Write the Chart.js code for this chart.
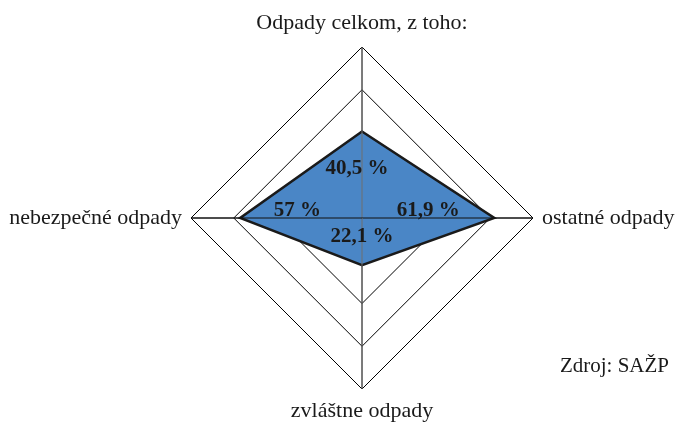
<!DOCTYPE html>
<html lang="sk">
<head>
<meta charset="utf-8">
<script src="https://cdn.jsdelivr.net/npm/chart.js@4"></script>
<style>
  html, body { margin: 0; padding: 0; background: #fff; }
  canvas { display: block; }
</style>
</head>
<body>
<canvas id="chart" width="675" height="425"></canvas>
<script>
// Štruktúra odpadov (podiely v %), zdroj SAŽP
const categories = ['Odpady celkom, z toho:', 'ostatné odpady', 'zvláštne odpady', 'nebezpečné odpady'];
const shares = [40.5, 61.9, 22.1, 57];
const valueLabels = ['40,5 %', '61,9 %', '22,1 %', '57 %'];
const source = 'Zdroj: SAŽP';

const SERIF = '"Liberation Serif", "Times New Roman", serif';

// where each value label sits along its spoke (fraction of the data radius) + small nudge
const labelPlace = [
  { f: 0.61, dx: -5, dy: 3 },
  { f: 0.5, dx: 0, dy: -7 },
  { f: 0.36, dx: 0, dy: 2 },
  { f: 0.53, dx: 0, dy: -7 }
];

// spokes are drawn over the filled polygon in the original, labels/texts drawn by hand
const overlay = {
  id: 'overlay',
  afterDatasetsDraw(chart) {
    const scale = chart.scales.r;
    const ctx = chart.ctx;
    const c = { x: scale.xCenter, y: scale.yCenter };
    ctx.save();
    ctx.lineWidth = 1;
    for (let i = 0; i < categories.length; i++) {
      const p = scale.getPointPosition(i, scale.drawingArea);
      ctx.strokeStyle = i % 2 === 0 ? '#6e6e6e' : '#111';
      ctx.beginPath();
      ctx.moveTo(c.x, c.y);
      ctx.lineTo(p.x, p.y);
      ctx.stroke();
    }

    // value labels
    ctx.fillStyle = '#1a1a1a';
    ctx.font = 'bold 21px ' + SERIF;
    ctx.textAlign = 'center';
    ctx.textBaseline = 'middle';
    shares.forEach((v, i) => {
      const pl = labelPlace[i];
      const p = scale.getPointPosition(i, scale.getDistanceFromCenterForValue(v) * pl.f);
      ctx.fillText(valueLabels[i], p.x + pl.dx, p.y + pl.dy);
    });
    ctx.restore();
  },
  afterDraw(chart) {
    const scale = chart.scales.r;
    const ctx = chart.ctx;
    ctx.save();
    ctx.fillStyle = '#1a1a1a';
    ctx.font = '22px ' + SERIF;
    const pad = 9;
    categories.forEach((lab, i) => {
      const p = scale.getPointPosition(i, scale.drawingArea + pad);
      if (i === 0) { ctx.textAlign = 'center'; ctx.textBaseline = 'bottom'; }
      else if (i === 1) { ctx.textAlign = 'left'; ctx.textBaseline = 'middle'; }
      else if (i === 2) { ctx.textAlign = 'center'; ctx.textBaseline = 'top'; }
      else { ctx.textAlign = 'right'; ctx.textBaseline = 'middle'; }
      ctx.fillText(lab, p.x, p.y + (i === 0 ? -4 : i === 2 ? 2 : 0));
    });
    ctx.font = '21px ' + SERIF;
    ctx.textAlign = 'right';
    ctx.textBaseline = 'alphabetic';
    ctx.fillText(source, chart.width - 6, 372);
    ctx.restore();
  }
};

const ctx = document.getElementById('chart').getContext('2d');
const chart = new Chart(ctx, {
  type: 'radar',
  data: {
    labels: categories,
    datasets: [{
      data: shares,
      backgroundColor: '#4a86c6',
      borderColor: '#1a1a1a',
      borderWidth: 2.5,
      pointRadius: 0,
      fill: true
    }]
  },
  options: {
    responsive: false,
    animation: false,
    devicePixelRatio: 1,
    layout: { padding: { left: 49, right: 0, top: 47, bottom: 36 } },
    plugins: { legend: { display: false }, tooltip: { enabled: false } },
    elements: { line: { tension: 0 } },
    scales: {
      r: {
        min: 0,
        max: 80,
        ticks: { stepSize: 20, display: false },
        grid: { color: '#000', lineWidth: 1 },
        angleLines: { display: true, color: '#111', lineWidth: 1 },
        pointLabels: { display: false }
      }
    }
  },
  plugins: [overlay]
});
</script>
</body>
</html>
